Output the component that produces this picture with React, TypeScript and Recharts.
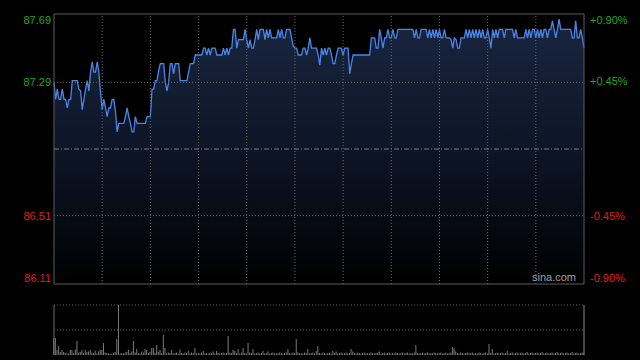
import React from "react";
import {
  ComposedChart,
  Area,
  XAxis,
  YAxis,
  ReferenceLine,
  ReferenceArea,
  BarChart,
  Bar,
} from "recharts";

// Price readings (left to right), five segments of the trading session
const priceSeg1 = [
  87.29, 87.19, 87.25, 87.19, 87.19, 87.25, 87.19, 87.19, 87.14, 87.19,
  87.19, 87.3, 87.3, 87.3, 87.3, 87.25, 87.24, 87.13, 87.19, 87.25,
  87.3, 87.24, 87.35, 87.41, 87.35, 87.35, 87.41, 87.35, 87.23, 87.13,
  87.19, 87.14, 87.09, 87.14, 87.14, 87.19, 87.19, 87.12, 87.0, 87.05,
  87.05, 87.05, 87.05, 87.09, 87.14, 87.09, 87.05, 87.0, 87.0, 87.09,
  87.05, 87.05, 87.05, 87.05, 87.05, 87.05, 87.09, 87.09, 87.09, 87.25,
  87.25, 87.3, 87.3, 87.36,
];
const priceSeg2 = [
  87.4, 87.4, 87.4, 87.29, 87.24, 87.29, 87.4, 87.4, 87.34, 87.4,
  87.4, 87.4, 87.3, 87.3, 87.3, 87.3, 87.3, 87.35, 87.4, 87.4,
  87.4, 87.45, 87.45, 87.45, 87.45, 87.45, 87.49, 87.49, 87.45, 87.49,
  87.45, 87.49, 87.49, 87.49, 87.45, 87.45, 87.45, 87.45, 87.49, 87.45,
  87.49, 87.45, 87.49, 87.49, 87.6, 87.6, 87.49, 87.54, 87.54, 87.54,
  87.54, 87.6, 87.54, 87.49, 87.54, 87.49, 87.49, 87.54, 87.6, 87.54,
  87.6, 87.6, 87.6, 87.54,
];
const priceSeg3 = [
  87.6, 87.55, 87.6, 87.55, 87.55, 87.55, 87.55, 87.6, 87.55, 87.6,
  87.55, 87.55, 87.6, 87.6, 87.6, 87.55, 87.5, 87.49, 87.49, 87.45,
  87.45, 87.45, 87.49, 87.49, 87.45, 87.49, 87.55, 87.49, 87.49, 87.49,
  87.49, 87.45, 87.39, 87.49, 87.45, 87.49, 87.45, 87.49, 87.49, 87.45,
  87.4, 87.4, 87.45, 87.49, 87.49, 87.49, 87.45, 87.49, 87.49, 87.49,
  87.34, 87.4, 87.45, 87.45, 87.45, 87.45, 87.45, 87.45, 87.45, 87.45,
  87.45, 87.45, 87.45, 87.55,
];
const priceSeg4 = [
  87.55, 87.55, 87.49, 87.49, 87.6, 87.55, 87.49, 87.55, 87.55, 87.6,
  87.55, 87.55, 87.6, 87.55, 87.55, 87.6, 87.6, 87.6, 87.6, 87.6,
  87.6, 87.6, 87.6, 87.6, 87.6, 87.55, 87.6, 87.55, 87.55, 87.6,
  87.6, 87.6, 87.6, 87.55, 87.6, 87.55, 87.6, 87.55, 87.6, 87.55,
  87.6, 87.55, 87.55, 87.6, 87.55, 87.55, 87.55, 87.54, 87.49, 87.55,
  87.54, 87.49, 87.49, 87.55, 87.55, 87.55, 87.6, 87.55, 87.6, 87.55,
  87.6, 87.55, 87.6, 87.55,
];
const priceSeg5 = [
  87.6, 87.55, 87.6, 87.55, 87.55, 87.6, 87.55, 87.49, 87.6, 87.55,
  87.6, 87.55, 87.6, 87.6, 87.6, 87.55, 87.6, 87.6, 87.6, 87.6,
  87.6, 87.55, 87.6, 87.55, 87.55, 87.55, 87.55, 87.55, 87.6, 87.55,
  87.6, 87.55, 87.6, 87.6, 87.55, 87.6, 87.55, 87.6, 87.55, 87.6,
  87.6, 87.55, 87.6, 87.6, 87.65, 87.6, 87.55, 87.6, 87.66, 87.6,
  87.6, 87.6, 87.6, 87.6, 87.6, 87.6, 87.55, 87.55, 87.65, 87.55,
  87.55, 87.6, 87.55, 87.49,
];

const volumes = [
  34, 34, 10, 18, 6, 10, 6, 4, 3, 3, 10, 10, 4, 11, 28, 5, 6, 10, 4, 10,
  6, 7, 10, 5, 4, 8, 3, 7, 11, 10, 24, 5, 4, 3, 2, 3, 4, 6, 32, 100,
  3, 4, 3, 5, 6, 10, 4, 7, 28, 5, 12, 4, 3, 7, 5, 12, 10, 4, 6, 14,
  14, 5, 20, 6, 10, 4, 40, 14, 3, 5, 4, 10, 3, 4, 5, 3, 11, 4, 3, 5,
  4, 8, 3, 5, 4, 14, 3, 4, 3, 5, 8, 3, 4, 3, 5, 4, 7, 3, 8, 4,
  3, 4, 5, 3, 4, 38, 5, 4, 10, 8, 4, 12, 3, 5, 14, 4, 3, 24, 5, 4,
  12, 3, 4, 5, 3, 4, 8, 3, 4, 7, 3, 4, 5, 3, 4, 3, 5, 4, 3, 4,
  5, 12, 4, 3, 5, 4, 32, 5, 3, 4, 3, 5, 4, 12, 3, 4, 5, 3, 8, 18,
  4, 3, 5, 4, 3, 4, 5, 3, 8, 4, 7, 3, 4, 5, 3, 4, 5, 3, 4, 12,
  7, 4, 3, 5, 4, 3, 4, 5, 3, 4, 3, 5, 4, 3, 4, 5, 7, 3, 4, 5,
  3, 4, 5, 3, 4, 3, 5, 4, 3, 4, 5, 3, 4, 5, 3, 4, 3, 5, 20, 4,
  3, 4, 5, 3, 4, 5, 3, 4, 3, 5, 4, 3, 4, 5, 3, 4, 5, 3, 4, 5,
  16, 14, 7, 4, 3, 5, 4, 3, 4, 5, 3, 4, 5, 3, 4, 3, 5, 4, 3, 4,
  5, 3, 22, 4, 12, 3, 4, 5, 3, 4, 5, 3, 4, 8, 3, 4, 5, 3, 4, 5,
  3, 4, 5, 3, 4, 6, 3, 4, 5, 3, 4, 5, 3, 4, 6, 3, 4, 5, 3, 4,
  5, 3, 4, 6, 3, 4, 5, 3, 4, 5, 3, 4, 6, 3, 4, 5, 3, 4, 5, 4,
];

const prevClose = 86.9;
const priceTicks = [86.11, 86.51, 87.29, 87.69];
const pctTicks = [-0.9, -0.45, 0.45, 0.9];
const timeGrid = [29, 58, 87, 116, 145, 174, 203, 232, 261, 290];
const priceMin = 86.11;
const priceMax = 87.69;

const prices = [...priceSeg1, ...priceSeg2, ...priceSeg3, ...priceSeg4, ...priceSeg5];
const lastIndex = prices.length - 1;
const data = prices.map((p, i) => ({ t: i, price: p, vol: volumes[i] }));

const GREEN = "#1fa51f";
const RED = "#e01c1c";
const FONT = "'Liberation Sans', Arial, sans-serif";

const LeftTick = (props: any) => {
  const { x, y, payload } = props;
  const v = payload.value as number;
  const dy = v >= priceMax - 0.001 ? 6 : v <= priceMin + 0.001 ? -6 : 0;
  return (
    <text x={x} y={y + dy} dy="0.36em" textAnchor="end" fontSize={11} fontFamily={FONT} fill={v > prevClose ? GREEN : RED}>
      {v.toFixed(2)}
    </text>
  );
};

const RightTick = (props: any) => {
  const { x, y, payload } = props;
  const v = payload.value as number;
  const dy = v >= 0.899 ? 6 : v <= -0.899 ? -6 : 0;
  const label = (v > 0 ? "+" : "") + v.toFixed(2) + "%";
  return (
    <text x={x} y={y + dy} dy="0.36em" textAnchor="start" fontSize={11} fontFamily={FONT} fill={v > 0 ? GREEN : RED}>
      {label}
    </text>
  );
};

export default function App() {
  return (
    <div style={{ position: "fixed", left: 0, top: 0, width: 640, height: 360, background: "#000", overflow: "hidden" }}>
      <div style={{ position: "absolute", left: 0, top: 0 }}>
        <ComposedChart width={640} height={290} data={data} margin={{ top: 14, right: 0, bottom: 6, left: 0 }}>
          <defs>
            <linearGradient id="areaFill" x1="0" y1="0" x2="0" y2="1">
              <stop offset="0%" stopColor="#18263f" />
              <stop offset="50%" stopColor="#0d1526" />
              <stop offset="100%" stopColor="#000000" />
            </linearGradient>
          </defs>
          <XAxis dataKey="t" type="number" domain={[0, lastIndex]} hide />
          <YAxis
            yAxisId="left"
            orientation="left"
            width={54}
            domain={[priceMin, priceMax]}
            ticks={priceTicks}
            allowDataOverflow
            axisLine={false}
            tickLine={false}
            tickSize={0}
            tickMargin={3}
            tick={<LeftTick />}
            interval={0}
          />
          <YAxis
            yAxisId="right"
            orientation="right"
            width={56}
            domain={[-0.9, 0.9]}
            ticks={pctTicks}
            allowDataOverflow
            axisLine={false}
            tickLine={false}
            tickSize={0}
            tickMargin={6}
            tick={<RightTick />}
            interval={0}
          />
          <Area
            yAxisId="left"
            type="linear"
            dataKey="price"
            stroke="#4a86ea"
            strokeWidth={1.3}
            fill="url(#areaFill)"
            fillOpacity={1}
            dot={false}
            activeDot={false}
            isAnimationActive={false}
          />
          {timeGrid.map((g) => (
            <ReferenceLine key={g} yAxisId="left" x={g} stroke="#6a6a6a" strokeDasharray="1 2" />
          ))}
          <ReferenceLine yAxisId="left" y={87.29} stroke="#6a6a6a" strokeDasharray="1 2" />
          <ReferenceLine yAxisId="left" y={86.51} stroke="#6a6a6a" strokeDasharray="1 2" />
          <ReferenceLine yAxisId="left" y={prevClose} stroke="#7a7f88" strokeDasharray="5 2 1 2" />
          <ReferenceArea
            yAxisId="left"
            x1={0}
            x2={lastIndex}
            y1={priceMin}
            y2={priceMax}
            fill="none"
            stroke="#5c5c5c"
            strokeWidth={1}
            ifOverflow="visible"
          />
        </ComposedChart>
      </div>
      <div
        style={{
          position: "absolute",
          left: 532,
          top: 271,
          fontFamily: FONT,
          fontSize: 11,
          color: "#a0a0a0",
          lineHeight: "13px",
        }}
      >
        sina.com
      </div>
      <div style={{ position: "absolute", left: 0, top: 300 }}>
        <BarChart width={640} height={56} data={data} margin={{ top: 5, right: 56, bottom: 1, left: 54 }} barGap={0}>
          <XAxis dataKey="t" type="number" domain={[0, lastIndex]} hide />
          <YAxis domain={[0, 100]} allowDataOverflow hide />
          <Bar dataKey="vol" fill="#7a7a7a" barSize={1} isAnimationActive={false} />
          <ReferenceLine y={100} stroke="#6a6a6a" strokeDasharray="1 2" />
          <ReferenceLine y={50} stroke="#6a6a6a" strokeDasharray="1 2" />
          <ReferenceLine x={0} stroke="#6a6a6a" />
          <ReferenceLine x={lastIndex} stroke="#8a8a8a" />
        </BarChart>
      </div>
    </div>
  );
}
